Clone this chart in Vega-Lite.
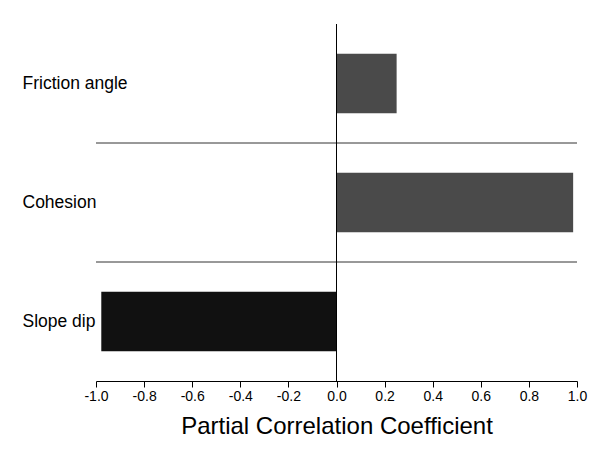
{
  "$schema": "https://vega.github.io/schema/vega-lite/v6.json",
  "width": 481,
  "height": 357,
  "padding": {"left": 22, "top": 23, "right": 20, "bottom": 5},
  "background": "white",
  "config": {
    "view": {"stroke": null},
    "font": "Liberation Sans"
  },
  "data": {
    "values": [
      {"category": "Friction angle", "pcc": 0.25},
      {"category": "Cohesion", "pcc": 0.984},
      {"category": "Slope dip", "pcc": -0.978}
    ]
  },
  "layer": [
    {
      "mark": {"type": "bar", "height": {"band": 0.5}},
      "encoding": {
        "y": {
          "field": "category",
          "type": "nominal",
          "sort": ["Friction angle", "Cohesion", "Slope dip"],
          "scale": {"domain": ["Friction angle", "Cohesion", "Slope dip"], "paddingInner": 0, "paddingOuter": 0},
          "axis": {
            "title": null,
            "domain": false,
            "ticks": false,
            "labelAlign": "left",
            "labelPadding": 74,
            "labelFontSize": 17.5,
            "labelColor": "black",
            "labelFont": "Liberation Sans"
          }
        },
        "x": {
          "field": "pcc",
          "type": "quantitative",
          "scale": {"domain": [-1, 1], "nice": false},
          "axis": {
            "title": "Partial Correlation Coefficient",
            "titleFontSize": 24,
            "titleFontWeight": "normal",
            "titleColor": "black",
            "titleFont": "Liberation Sans",
            "titlePadding": 11,
            "grid": false,
            "domainColor": "black",
            "domainWidth": 1,
            "tickColor": "black",
            "tickWidth": 1,
            "tickSize": {"condition": {"test": "abs(round(datum.value*10)) % 2 == 0", "value": 6}, "value": 4},
            "values": [-1, -0.9, -0.8, -0.7, -0.6, -0.5, -0.4, -0.3, -0.2, -0.1, 0, 0.1, 0.2, 0.3, 0.4, 0.5, 0.6, 0.7, 0.8, 0.9, 1],
            "labelExpr": "abs(round(datum.value*10)) % 2 == 0 ? replace(format(datum.value, '.1f'), '\u2212', '-') : ''",
            "labelOverlap": false,
            "labelFlush": false,
            "labelFontSize": 14,
            "labelColor": "black",
            "labelPadding": 2
          }
        },
        "color": {
          "field": "category",
          "type": "nominal",
          "scale": {"domain": ["Friction angle", "Cohesion", "Slope dip"], "range": ["#4a4a4a", "#4a4a4a", "#111111"]},
          "legend": null
        }
      }
    },
    {
      "transform": [{"filter": "datum.category != 'Friction angle'"}],
      "mark": {"type": "rule", "color": "#333333", "strokeWidth": 1},
      "encoding": {
        "y": {"field": "category", "type": "nominal", "bandPosition": 0}
      }
    },
    {
      "mark": {"type": "rule", "color": "black", "strokeWidth": 1},
      "encoding": {
        "x": {"datum": 0}
      }
    }
  ]
}
